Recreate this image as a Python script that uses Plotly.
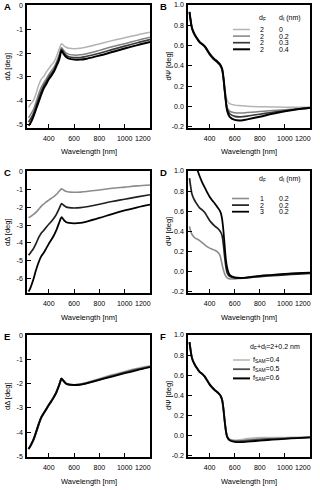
import plotly.graph_objects as go
from plotly.subplots import make_subplots

# wavelength grid (nm)
WL = [240, 250, 260, 280, 300, 320, 340, 360, 380, 400, 420, 440, 460, 480, 490,
      500, 510, 520, 530, 540, 560, 600, 650, 700, 800, 900, 1000, 1100, 1200]

# Panel A: dDelta, d_F = 2, d_I = 0 / 0.2 / 0.3 / 0.4
A_dI0 = [-4.28, -4.2, -4.12, -3.98, -3.7, -3.35, -3.1, -2.98, -2.8, -2.65, -2.5, -2.38, -2.15, -1.85, -1.72,
         -1.6, -1.64, -1.69, -1.73, -1.76, -1.79, -1.81, -1.79, -1.74, -1.61, -1.47, -1.35, -1.23, -1.12]
A_dI2 = [-4.72, -4.64, -4.55, -4.35, -4.05, -3.72, -3.45, -3.25, -3.08, -2.9, -2.75, -2.6, -2.38, -2.1, -1.93,
         -1.77, -1.82, -1.9, -1.96, -2.0, -2.05, -2.08, -2.07, -2.02, -1.88, -1.73, -1.6, -1.46, -1.33]
A_dI3 = [-4.9, -4.82, -4.74, -4.52, -4.22, -3.9, -3.62, -3.38, -3.2, -3.01, -2.86, -2.7, -2.47, -2.2, -2.02,
         -1.84, -1.9, -1.98, -2.05, -2.1, -2.15, -2.18, -2.18, -2.13, -2.0, -1.85, -1.7, -1.56, -1.43]
A_dI4 = [-5.05, -4.98, -4.9, -4.65, -4.35, -4.05, -3.75, -3.48, -3.3, -3.1, -2.95, -2.78, -2.55, -2.3, -2.1,
         -1.9, -1.97, -2.05, -2.12, -2.17, -2.23, -2.27, -2.27, -2.23, -2.1, -1.95, -1.8, -1.66, -1.53]

# Panel B: dPsi, same series
B_dI0 = [0.94, 0.85, 0.78, 0.72, 0.68, 0.645, 0.625, 0.6, 0.565, 0.525, 0.495, 0.47, 0.45, 0.425, 0.405,
         0.375, 0.3, 0.2, 0.11, 0.06, 0.03, 0.015, 0.01, 0.005, 0.0, -0.003, -0.005, -0.006, -0.007]
B_dI2 = [0.93, 0.84, 0.77, 0.71, 0.67, 0.635, 0.615, 0.59, 0.55, 0.51, 0.48, 0.455, 0.435, 0.41, 0.39,
         0.355, 0.27, 0.15, 0.05, -0.01, -0.045, -0.06, -0.062, -0.058, -0.048, -0.038, -0.03, -0.022, -0.015]
B_dI3 = [0.93, 0.84, 0.77, 0.71, 0.67, 0.635, 0.615, 0.592, 0.555, 0.515, 0.485, 0.46, 0.44, 0.415, 0.395,
         0.365, 0.28, 0.16, 0.05, -0.02, -0.07, -0.095, -0.1, -0.093, -0.075, -0.055, -0.04, -0.025, -0.012]
B_dI4 = [0.93, 0.84, 0.77, 0.71, 0.67, 0.635, 0.615, 0.595, 0.56, 0.52, 0.49, 0.465, 0.445, 0.42, 0.4,
         0.37, 0.29, 0.17, 0.05, -0.04, -0.1, -0.13, -0.135, -0.125, -0.1, -0.07, -0.045, -0.025, -0.01]

# Panel C: dDelta, d_I = 0.2, d_F = 1 / 2 / 3
C_dF1 = [-2.58, -2.55, -2.5, -2.4, -2.27, -2.12, -1.95, -1.82, -1.7, -1.6, -1.5, -1.4, -1.28, -1.12, -1.04,
         -0.97, -1.0, -1.05, -1.09, -1.12, -1.15, -1.16, -1.15, -1.12, -1.03, -0.94, -0.87, -0.8, -0.75]
C_dF2 = [-4.68, -4.6, -4.5, -4.3, -4.02, -3.7, -3.45, -3.3, -3.12, -2.95, -2.8, -2.62, -2.4, -2.1, -1.95,
         -1.8, -1.84, -1.9, -1.95, -1.99, -2.02, -2.04, -2.02, -1.97, -1.83, -1.68, -1.55, -1.42, -1.3]
C_dF3 = [-6.72, -6.6, -6.42, -6.0, -5.5, -5.08, -4.75, -4.55, -4.3, -4.05, -3.82, -3.58, -3.28, -2.9, -2.72,
         -2.56, -2.62, -2.72, -2.79, -2.84, -2.88, -2.9, -2.88, -2.8, -2.6, -2.38, -2.18, -2.0, -1.85]

# Panel D: dPsi, same series
D_dF1 = [0.45, 0.4, 0.37, 0.34, 0.325, 0.31, 0.29, 0.27, 0.25, 0.235, 0.225, 0.215, 0.2, 0.17, 0.13,
         0.07, 0.02, -0.02, -0.045, -0.06, -0.07, -0.07, -0.065, -0.06, -0.045, -0.033, -0.022, -0.014, -0.01]
D_dF2 = [0.93, 0.84, 0.77, 0.71, 0.67, 0.635, 0.615, 0.59, 0.55, 0.51, 0.48, 0.455, 0.435, 0.41, 0.39,
         0.355, 0.27, 0.15, 0.05, -0.01, -0.045, -0.06, -0.062, -0.058, -0.048, -0.038, -0.03, -0.022, -0.015]
D_dF3 = [1.25, 1.2, 1.15, 1.08, 1.02, 0.95, 0.89, 0.84, 0.79, 0.745, 0.71, 0.68, 0.645, 0.61, 0.58,
         0.52, 0.41, 0.26, 0.12, 0.04, -0.03, -0.055, -0.06, -0.055, -0.04, -0.03, -0.02, -0.012, -0.008]

# Panel E: dDelta, d_F + d_I = 2 + 0.2 nm, f_SAM = 0.4 / 0.5 / 0.6
E_f4 = [-4.7, -4.62, -4.52, -4.3, -4.0, -3.68, -3.4, -3.22, -3.05, -2.88, -2.72, -2.55, -2.35, -2.08, -1.93,
        -1.79, -1.84, -1.9, -1.96, -2.0, -2.03, -2.05, -2.02, -1.96, -1.8, -1.64, -1.5, -1.37, -1.27]
E_f5 = [-4.7, -4.62, -4.52, -4.3, -4.0, -3.68, -3.4, -3.22, -3.05, -2.88, -2.72, -2.55, -2.35, -2.08, -1.93,
        -1.79, -1.84, -1.9, -1.96, -2.0, -2.03, -2.05, -2.03, -1.97, -1.82, -1.67, -1.53, -1.4, -1.29]
E_f6 = [-4.7, -4.62, -4.52, -4.3, -4.0, -3.68, -3.4, -3.22, -3.05, -2.88, -2.72, -2.55, -2.35, -2.08, -1.93,
        -1.79, -1.84, -1.9, -1.96, -2.0, -2.03, -2.05, -2.03, -1.98, -1.84, -1.7, -1.56, -1.43, -1.31]

# Panel F: dPsi, same series
F_f4 = [0.93, 0.84, 0.77, 0.71, 0.67, 0.635, 0.615, 0.59, 0.55, 0.51, 0.48, 0.455, 0.435, 0.41, 0.39,
        0.355, 0.27, 0.15, 0.05, -0.005, -0.035, -0.045, -0.04, -0.03, -0.02, -0.02, -0.018, -0.016, -0.014]
F_f5 = [0.93, 0.84, 0.77, 0.71, 0.67, 0.635, 0.615, 0.59, 0.55, 0.51, 0.48, 0.455, 0.435, 0.41, 0.39,
        0.355, 0.27, 0.15, 0.05, -0.008, -0.04, -0.053, -0.052, -0.045, -0.035, -0.03, -0.025, -0.02, -0.015]
F_f6 = [0.93, 0.84, 0.77, 0.71, 0.67, 0.635, 0.615, 0.59, 0.55, 0.51, 0.48, 0.455, 0.435, 0.41, 0.39,
        0.355, 0.27, 0.15, 0.05, -0.01, -0.045, -0.06, -0.062, -0.058, -0.048, -0.038, -0.03, -0.022, -0.015]

# legend contents
B_DF = ["2", "2", "2", "2"]
B_DI = ["0", "0.2", "0.3", "0.4"]
D_DF = ["1", "2", "3"]
D_DI = ["0.2", "0.2", "0.2"]
F_FSAM = ["0.4", "0.5", "0.6"]

# tick labels
X_TICKS = [400, 600, 800, 1000, 1200]
A_YTICKS = [0, -1, -2, -3, -4, -5]
C_YTICKS = [0, -1, -2, -3, -4, -5, -6]
PSI_YTICKS = [1.0, 0.8, 0.6, 0.4, 0.2, 0.0, -0.2]
PSI_YTEXT = ["1.0", "0.8", "0.6", "0.4", "0.2", "0.0", "-0.2"]

FONT = "Liberation Sans, Arial, sans-serif"
W, H = 320, 490
GRAY4 = ["#b4b4b4", "#828282", "#3a3a3a", "#000000"]
WID4 = [1.5, 1.5, 1.7, 2.0]
GRAY3 = ["#8c8c8c", "#202020", "#000000"]
GRAYF = ["#b4b4b4", "#505050", "#000000"]


def px_x(p):
    return p / W


def px_y(p):
    return 1 - p / H


fig = make_subplots(rows=3, cols=2)

panels = [
    (1, 1, [A_dI0, A_dI2, A_dI3, A_dI4], GRAY4, WID4),
    (1, 2, [B_dI0, B_dI2, B_dI3, B_dI4], GRAY4, WID4),
    (2, 1, [C_dF1, C_dF2, C_dF3], GRAY3, [1.6, 1.7, 1.8]),
    (2, 2, [D_dF1, D_dF2, D_dF3], GRAY3, [1.6, 1.7, 1.8]),
    (3, 1, [E_f4, E_f5, E_f6], GRAYF, [2.2, 2.0, 1.8]),
    (3, 2, [F_f4, F_f5, F_f6], GRAYF, [2.0, 1.9, 1.8]),
]
for r, c, series, cols, wids in panels:
    fig.add_hline(y=0, row=r, col=c, line=dict(color="black", width=1, dash="4px,1.5px,1px,1.5px,1px,1.5px"))
    for ys, col, w in zip(series, cols, wids):
        fig.add_trace(go.Scatter(x=WL, y=ys, mode="lines", line=dict(color=col, width=w, shape="spline"),
                                 showlegend=False, hoverinfo="skip"), row=r, col=c)

# plot area pixel boxes (left, right, top, bottom)
boxes = {
    (1, 1): (27, 150, 5, 128), (1, 2): (188, 310, 5, 128),
    (2, 1): (27, 150, 171, 293), (2, 2): (188, 310, 171, 293),
    (3, 1): (27, 150, 335, 457), (3, 2): (188, 310, 335, 457),
}
yranges = {
    (1, 1): [-5.15, 0.03], (1, 2): [-0.21, 1.0],
    (2, 1): [-6.8, 0.03], (2, 2): [-0.21, 1.0],
    (3, 1): [-5.03, 0.02], (3, 2): [-0.21, 1.0],
}
axis_common = dict(showline=True, linecolor="black", linewidth=1.5, mirror=True, ticks="inside",
                   ticklen=4, tickwidth=1.2, tickcolor="black", showgrid=False, zeroline=False,
                   tickangle=0, tickfont=dict(family=FONT, size=7, color="black"), automargin=False)
# last x label is drawn as an annotation ending at the axis corner, as in the original
xtext = [str(v) for v in X_TICKS[:-1]] + [""]
for (r, c), (l, rt, t, b) in boxes.items():
    fig.update_xaxes(domain=[px_x(l), px_x(rt)], range=[228, 1200], tickvals=X_TICKS,
                     ticktext=xtext, ticklabelstandoff=3, fixedrange=True, row=r, col=c, **axis_common)
    if c == 1:
        yt = A_YTICKS if r != 2 else C_YTICKS
        ytext = [str(v) for v in yt]
    else:
        yt, ytext = PSI_YTICKS, PSI_YTEXT
    fig.update_yaxes(domain=[px_y(b), px_y(t)], range=yranges[(r, c)], tickvals=yt, ticktext=ytext,
                     ticklabelstandoff=1, fixedrange=True, row=r, col=c, **axis_common)

ann = []


def text(x, y, s, size=7, bold=False, xanchor="center", angle=0):
    ann.append(dict(x=px_x(x), y=px_y(y), xref="paper", yref="paper", text=f"<b>{s}</b>" if bold else s,
                    showarrow=False, xanchor=xanchor, yanchor="middle", textangle=angle,
                    font=dict(family=FONT, size=size, color="black")))


# panel letters, axis titles
letters = {(1, 1): "A", (1, 2): "B", (2, 1): "C", (2, 2): "D", (3, 1): "E", (3, 2): "F"}
for (r, c), (l, rt, t, b) in boxes.items():
    text(l - 20 if c == 1 else l - 25, t + 1, letters[(r, c)], size=9.5, bold=True)
    text((l + rt) / 2, b + 24, "Wavelength [nm]", size=7.5)
    ytitle = "d\u0394 [deg]" if c == 1 else "d\u03a8 [deg]"
    text(l - 20, (t + b) / 2, ytitle, size=7.5, angle=-90)
    text(rt + 2.5, b + 10, str(X_TICKS[-1]), size=7, xanchor="right")

shapes = []


def key(x0, x1, y, col, w):
    shapes.append(dict(type="line", xref="paper", yref="paper", x0=px_x(x0), x1=px_x(x1),
                       y0=px_y(y), y1=px_y(y), line=dict(color=col, width=w)))


# legend B
text(262, 18, "d<sub>F</sub>", size=7)
text(277, 18, "d<sub>I</sub> (nm)", size=7, xanchor="left")
for i, (df, di) in enumerate(zip(B_DF, B_DI)):
    y = 29.5 + i * 6.6
    key(233, 250, y, GRAY4[i], WID4[i])
    text(262, y, df, size=7)
    text(277, y, di, size=7, xanchor="left")

# legend D
text(262, 179, "d<sub>F</sub>", size=7)
text(277, 179, "d<sub>I</sub> (nm)", size=7, xanchor="left")
for i, (df, di) in enumerate(zip(D_DF, D_DI)):
    y = 198.5 + i * 6.6
    key(232, 249, y, GRAY3[i], [1.6, 1.7, 1.8][i])
    text(262, y, df, size=7)
    text(277, y, di, size=7, xanchor="left")

# legend F
text(248, 347, "d<sub>F</sub>+d<sub>I</sub>=2+0.2 nm", size=7, xanchor="left")
for i, f in enumerate(F_FSAM):
    y = 360 + i * 9.2
    key(233, 250, y, GRAYF[i], [1.5, 1.8, 2.0][i])
    text(251, y, f"f<sub>SAM</sub>={f}", size=7, xanchor="left")

fig.update_layout(width=W, height=H, margin=dict(l=0, r=0, t=0, b=0), plot_bgcolor="white",
                  paper_bgcolor="white", showlegend=False, hovermode=False,
                  annotations=ann, shapes=list(fig.layout.shapes) + shapes)

fig.write_html("out.html", config={"displayModeBar": False},
               post_script="document.body.style.margin='0';")
